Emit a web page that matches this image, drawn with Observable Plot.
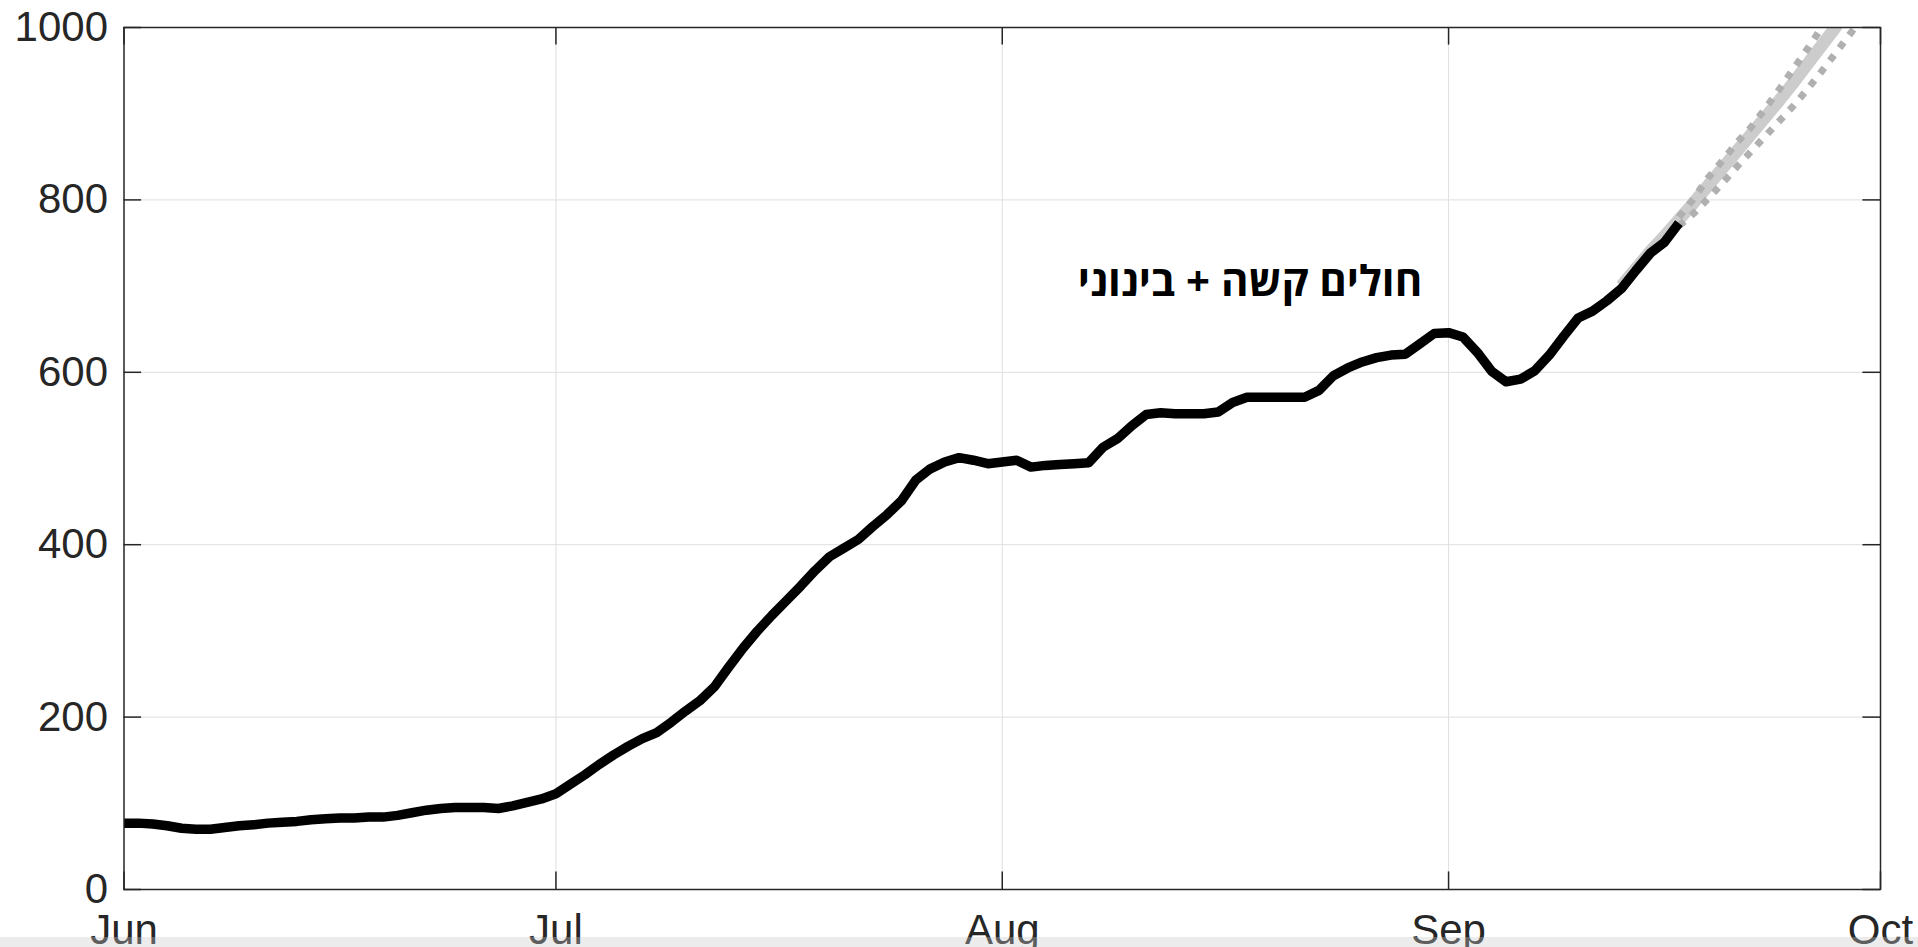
<!DOCTYPE html>
<html>
<head>
<meta charset="utf-8">
<script src="https://cdn.jsdelivr.net/npm/d3@7"></script>
<script src="https://cdn.jsdelivr.net/npm/@observablehq/plot@0.6"></script>
<style>
  html, body { margin: 0; padding: 0; background: #fff; overflow: hidden; width: 1918px; height: 947px; }
  #chart { position: absolute; left: 0; top: 0; }
  #band { position: fixed; left: 0; bottom: 0; width: 1918px; height: 10px; background: rgba(200,200,200,0.35); z-index: 5; }
</style>
</head>
<body>
<div id="chart"></div>
<div id="band"></div>
<script>
// ---- data ----
const startDate = "2021-06-01";
// daily values, Jun 1 .. Sep 17
const juneValues = [77,77,76,74,71,70,70,72,74,75,77,78,79,81,82,83,83,84,84,86,89,92,94,95,95,95,94,97,101,105];
const julyValues = [111,122,133,145,156,166,175,182,194,207,219,235,258,280,300,318,335,352,370,386,396,406,421,435,451,475,488,496,501,498,494];
const augustValues = [496,498,490,492,493,494,495,513,523,538,551,553,552,552,552,554,565,571,571,571,571,571,579,596,605,612,617,620,621,633,645];
const septemberValues = [646,641,623,601,589,592,602,620,642,663,671,683,697,718,738,751,773];

// projection (fit) from Sep 13, and bounds from Sep 17
const fitStart = "2021-09-13";
const fitValues = [700,720,740,758,777,796,816,836,856,876,896,916,937,959,981,1003];
const boundStart = "2021-09-17";
const upperValues = [780,801,825,845,866,884,906,929,953,977,1002];
const lowerValues = [770,784,801,819,838,856,874,892,910,930,951,973,995,1018];

const yTicks = [0,200,400,600,800,1000];
const xTicks = ["2021-06-01","2021-07-01","2021-08-01","2021-09-01","2021-10-01"];
const xDomain = ["2021-06-01","2021-10-01"];

const labelText = "חולים קשה + בינוני";
const labelDate = "2021-08-18T05:00";
const labelValue = 704;

// ---- build ----
const parse = s => new Date(s + (s.length === 10 ? "T00:00Z" : "Z"));
const DAY = 864e5;
function series(start, vals) {
  const t0 = parse(start).getTime();
  return vals.map((v, i) => ({date: new Date(t0 + i * DAY), value: v}));
}
const observed = series(startDate, [...juneValues, ...julyValues, ...augustValues, ...septemberValues]);
const fit = series(fitStart, fitValues);
const upper = series(boundStart, upperValues);
const lower = series(boundStart, lowerValues);
const tickDates = xTicks.map(parse);
const gridDates = tickDates.slice(1, -1);
const gridValues = yTicks.slice(1, -1);

const W = 1918, H = 947;
const mL = 123.5, mR = 38, mT = 27, mB = 58;
const pw = W - mL - mR, ph = H - mT - mB;
const tl = 17.6;

const plot = Plot.plot({
  width: W, height: H,
  marginLeft: mL, marginRight: mR, marginTop: mT, marginBottom: mB,
  style: {fontFamily: "'Liberation Sans', Arial, Helvetica, sans-serif", fontSize: "42px", color: "#262626", background: "white", overflow: "visible"},
  x: {type: "utc", domain: xDomain.map(parse), label: null},
  y: {domain: [0, 1000], label: null},
  marks: [
    Plot.ruleY(gridValues, {stroke: "#dfdfdf", strokeWidth: 1}),
    Plot.ruleX(gridDates, {stroke: "#dfdfdf", strokeWidth: 1}),
    Plot.line(fit, {x: "date", y: "value", stroke: "#cccccc", strokeWidth: 12.5, clip: true, strokeLinecap: "butt"}),
    Plot.line(upper, {x: "date", y: "value", stroke: "#b0b0b0", strokeWidth: 7, strokeDasharray: "7,9", strokeLinecap: "butt", clip: true}),
    Plot.line(lower, {x: "date", y: "value", stroke: "#b0b0b0", strokeWidth: 7, strokeDasharray: "7,9", strokeLinecap: "butt", clip: true}),
    Plot.line(observed, {x: "date", y: "value", stroke: "#000", strokeWidth: 9.5, strokeLinejoin: "round", strokeLinecap: "butt"}),
    Plot.frame({stroke: "#262626", strokeWidth: 1.5}),
    // inward ticks on all four sides
    Plot.ruleX(tickDates, {stroke: "#262626", strokeWidth: 1.5, insetTop: ph - tl}),
    Plot.ruleX(tickDates, {stroke: "#262626", strokeWidth: 1.5, insetBottom: ph - tl}),
    Plot.ruleY(yTicks, {stroke: "#262626", strokeWidth: 1.5, insetRight: pw - tl}),
    Plot.ruleY(yTicks, {stroke: "#262626", strokeWidth: 1.5, insetLeft: pw - tl}),
    Plot.axisY({ticks: yTicks, tickFormat: d3.format("d"), tickSize: 0, tickPadding: 16, fontSize: 42, label: null}),
    Plot.axisX({ticks: tickDates, tickFormat: d3.utcFormat("%b"), tickSize: 0, tickPadding: 25, fontSize: 42, label: null}),
    Plot.text([{date: parse(labelDate), value: labelValue, t: labelText}], {x: "date", y: "value", text: "t", fontSize: 42, fontWeight: "bold", fontFamily: "'Open Sans', 'DejaVu Sans', sans-serif", fill: "#000", textAnchor: "middle"})
  ]
});
document.getElementById("chart").appendChild(plot);
</script>
</body>
</html>
